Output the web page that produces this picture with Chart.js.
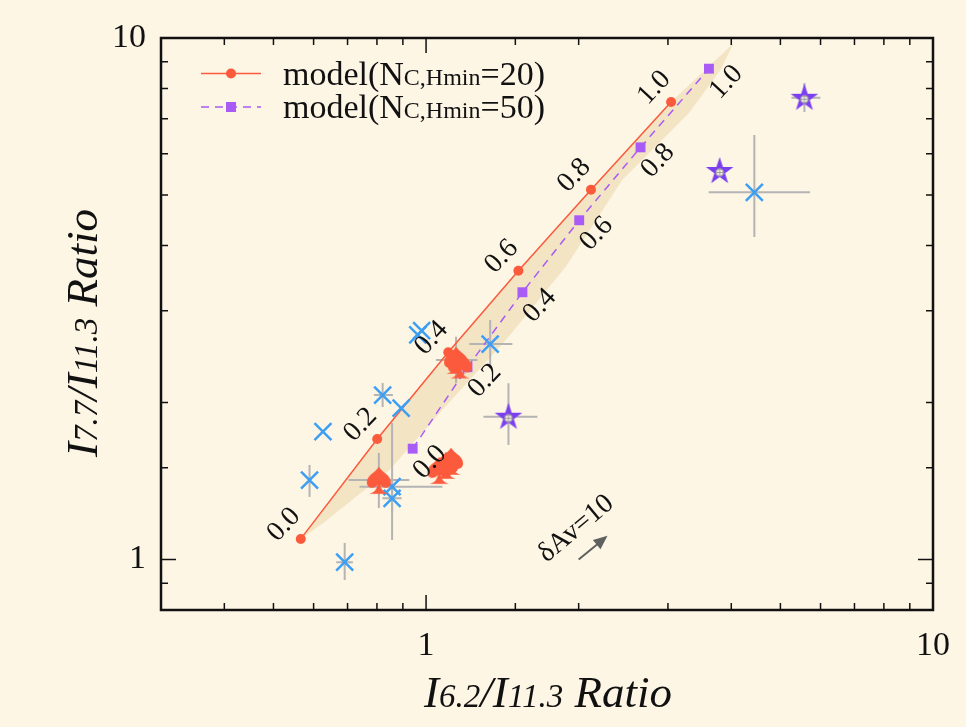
<!DOCTYPE html>
<html>
<head>
<meta charset="utf-8">
<script src="https://cdn.jsdelivr.net/npm/chart.js@4.4.1/dist/chart.umd.min.js"></script>
<style>
  html, body { margin: 0; padding: 0; background: #fdf6e5; }
  #wrap { width: 966px; height: 727px; }
</style>
</head>
<body>
<div id="wrap"><canvas id="ratioChart" width="966" height="727"></canvas></div>
<script>
// Model tracks, labelled by fraction along each curve
const fractionLabels = ["0.0", "0.2", "0.4", "0.6", "0.8", "1.0"]
const model20X = [0.566, 0.801, 1.106, 1.521, 2.115, 3.043]
const model20Y = [1.095, 1.702, 2.496, 3.579, 5.118, 7.54]
const model50X = [0.941, 1.207, 1.549, 2.005, 2.649, 3.614]
const model50Y = [1.631, 2.337, 3.254, 4.472, 6.17, 8.733]

// Shaded envelope: up along the N=20 track, back down the lower edge
const bandX = [0.566, 0.801, 1.106, 1.521, 2.115, 3.043, 4.044, 3.806, 3.297, 2.437, 1.886, 1.437, 1.062, 0.847, 0.626]
const bandY = [1.095, 1.702, 2.496, 3.579, 5.118, 7.54, 9.77, 8.68, 7.17, 5.34, 3.64, 2.636, 1.907, 1.484, 1.173]

// Observed sources (blue crosses)
const crossX = [0.963, 0.980, 0.821, 0.893, 0.626, 0.589, 0.857, 0.857, 0.691, 1.338, 4.442]
const crossY = [2.695, 2.746, 2.067, 1.950, 1.759, 1.420, 1.379, 1.310, 0.988, 2.589, 5.060]
const crossXLo = [null, null, 0.789, null, null, null, 0.739, 0.82, 0.665, 1.217, 3.610]
const crossXHi = [null, null, 0.860, null, null, null, 1.077, 0.895, 0.717, 1.480, 5.722]
const crossYLo = [null, null, 1.961, null, null, 1.318, 1.090, 1.233, 0.913, 2.326, 4.153]
const crossYHi = [null, null, 2.180, null, null, 1.518, 1.827, 1.390, 1.076, 2.880, 6.516]

// Red spades
const spadeX = [0.807, 1.146, 1.166, 1.062, 1.095, 1.120]
const spadeY = [1.420, 2.413, 2.365, 1.484, 1.518, 1.545]
const spadeXLo = [0.703, 1.046, null, null, null, null]
const spadeXHi = [0.927, 1.263, null, null, null, null]
const spadeYLo = [1.255, 2.177, null, null, null, null]
const spadeYHi = [1.600, 2.675, null, null, null, null]

// Purple stars
const starX = [1.454, 5.576, 3.794]
const starY = [1.878, 7.68, 5.559]
const starXLo = [1.298, 5.257, 3.675]
const starXHi = [1.658, 5.995, 3.916]
const starYLo = [1.658, 7.21, 5.413]
const starYHi = [2.177, 8.2, 5.707]

// Extinction vector
const arrowFrom = [2.0, 1.0]
const arrowTo = [2.28, 1.11]

// Axis labels
const xTickLabels = [1, 10]
const yTickLabels = [1, 10]

const bgColor = "#fdf6e5"
const bandColor = "#f3e4c4"
const redColor = "#fb5a3c"
const purpleColor = "#a95bf5"
const starColor = "#7b3ff0"
const blueColor = "#3d9ff3"
const errColor = "#b4b4b4"
const serif = "'Liberation Serif', 'DejaVu Serif', serif"

function pts(xs, ys) {
  return xs.map((x, i) => ({ x: x, y: ys[i] }))
}

function isLabelled(v, list) {
  return list.some((t) => Math.abs(v - t) < 1e-9)
}

function makeSpade(color) {
  const c = document.createElement("canvas")
  c.width = 28
  c.height = 30
  const g = c.getContext("2d")
  g.translate(14, 15)
  g.scale(1.2, 1.2)
  g.fillStyle = color
  g.beginPath()
  g.moveTo(0, -11)
  g.bezierCurveTo(3, -6, 10, -4, 10, 2)
  g.bezierCurveTo(10, 7, 4, 8, 1.2, 4)
  g.quadraticCurveTo(2, 10, 8, 11.5)
  g.lineTo(-8, 11.5)
  g.quadraticCurveTo(-2, 10, -1.2, 4)
  g.bezierCurveTo(-4, 8, -10, 7, -10, 2)
  g.bezierCurveTo(-10, -4, -3, -6, 0, -11)
  g.closePath()
  g.fill()
  return c
}

function makeStar(color) {
  const c = document.createElement("canvas")
  c.width = 32
  c.height = 32
  const g = c.getContext("2d")
  g.translate(16, 16.5)
  g.fillStyle = color
  g.beginPath()
  for (let i = 0; i < 10; i++) {
    const r = i % 2 === 0 ? 14.5 : 5.6
    const a = -Math.PI / 2 + (i * Math.PI) / 5
    g.lineTo(r * Math.cos(a), r * Math.sin(a))
  }
  g.closePath()
  g.fill()
  // small hollow centre with a hairline cross
  g.fillStyle = bgColor
  g.strokeStyle = "#a0a0a0"
  g.lineWidth = 1.2
  g.beginPath()
  g.arc(0, 1, 3.6, 0, Math.PI * 2)
  g.fill()
  g.stroke()
  g.beginPath()
  g.moveTo(-3.6, 1)
  g.lineTo(3.6, 1)
  g.moveTo(0, -2.6)
  g.lineTo(0, 4.6)
  g.stroke()
  return c
}

// text made of runs with different sizes, sharing one baseline
function drawRuns(c, runs, x, y, align, italic) {
  const style = italic ? "italic " : ""
  let total = 0
  runs.forEach((r) => {
    c.font = `${style}${r.size}px ${serif}`
    r.w = c.measureText(r.t).width
    total += r.w
  })
  let cx = align === "center" ? x - total / 2 : x
  c.textAlign = "left"
  c.textBaseline = "alphabetic"
  runs.forEach((r) => {
    c.font = `${style}${r.size}px ${serif}`
    c.fillText(r.t, cx, y)
    cx += r.w
  })
}

function drawErrors(c, x, y, xs, ys, xlo, xhi, ylo, yhi) {
  xs.forEach((v, i) => {
    const px = x.getPixelForValue(v)
    const py = y.getPixelForValue(ys[i])
    c.beginPath()
    if (xlo[i] !== null) {
      c.moveTo(x.getPixelForValue(xlo[i]), py)
      c.lineTo(x.getPixelForValue(xhi[i]), py)
    }
    if (ylo[i] !== null) {
      c.moveTo(px, y.getPixelForValue(ylo[i]))
      c.lineTo(px, y.getPixelForValue(yhi[i]))
    }
    c.stroke()
  })
}

function drawCurveLabels(c, x, y, xs, ys, side) {
  c.save()
  c.font = `28px ${serif}`
  c.fillStyle = "#111"
  c.textAlign = "center"
  c.textBaseline = "middle"
  const n = xs.length
  const p0 = [x.getPixelForValue(xs[0]), y.getPixelForValue(ys[0])]
  const p1 = [x.getPixelForValue(xs[n - 1]), y.getPixelForValue(ys[n - 1])]
  const ang = Math.atan2(p1[1] - p0[1], p1[0] - p0[0])
  // normal pointing up-left (side = -1) or down-right (side = 1)
  const nx = -Math.sin(ang) * side
  const ny = Math.cos(ang) * side
  xs.forEach((v, i) => {
    const px = x.getPixelForValue(v) + nx * 22
    const py = y.getPixelForValue(ys[i]) + ny * 22
    c.save()
    c.translate(px, py)
    c.rotate((-47 * Math.PI) / 180)
    c.fillText(fractionLabels[i], 0, 0)
    c.restore()
  })
  c.restore()
}

const chartDecor = {
  id: "chartDecor",
  beforeDraw(chart) {
    const c = chart.ctx
    c.save()
    c.fillStyle = bgColor
    c.fillRect(0, 0, chart.width, chart.height)
    c.restore()
  },
  beforeDatasetsDraw(chart) {
    const c = chart.ctx
    const a = chart.chartArea
    const x = chart.scales.x
    const y = chart.scales.y
    c.save()
    c.beginPath()
    c.rect(a.left, a.top, a.right - a.left, a.bottom - a.top)
    c.clip()
    c.fillStyle = bandColor
    c.beginPath()
    bandX.forEach((v, i) => c.lineTo(x.getPixelForValue(v), y.getPixelForValue(bandY[i])))
    c.closePath()
    c.fill()
    c.strokeStyle = errColor
    c.lineWidth = 2
    drawErrors(c, x, y, crossX, crossY, crossXLo, crossXHi, crossYLo, crossYHi)
    drawErrors(c, x, y, spadeX, spadeY, spadeXLo, spadeXHi, spadeYLo, spadeYHi)
    drawErrors(c, x, y, starX, starY, starXLo, starXHi, starYLo, starYHi)
    c.restore()
  },
  afterDatasetsDraw(chart) {
    const c = chart.ctx
    const a = chart.chartArea
    const x = chart.scales.x
    const y = chart.scales.y
    c.save()
    c.strokeStyle = "#111"
    c.lineWidth = 1.5
    c.beginPath()
    x.ticks.forEach((t) => {
      const px = x.getPixelForValue(t.value)
      const len = isLabelled(t.value, xTickLabels) ? 15 : 7
      c.moveTo(px, a.bottom)
      c.lineTo(px, a.bottom - len)
      c.moveTo(px, a.top)
      c.lineTo(px, a.top + len)
    })
    y.ticks.forEach((t) => {
      const py = y.getPixelForValue(t.value)
      const len = isLabelled(t.value, yTickLabels) ? 15 : 7
      c.moveTo(a.left, py)
      c.lineTo(a.left + len, py)
      c.moveTo(a.right, py)
      c.lineTo(a.right - len, py)
    })
    c.stroke()
    c.lineWidth = 2.5
    c.strokeRect(a.left, a.top, a.right - a.left, a.bottom - a.top)
    c.restore()
  },
  afterDraw(chart) {
    const c = chart.ctx
    const x = chart.scales.x
    const y = chart.scales.y
    drawCurveLabels(c, x, y, model20X, model20Y, -1)
    drawCurveLabels(c, x, y, model50X, model50Y, 1)

    // extinction arrow
    const ax0 = x.getPixelForValue(arrowFrom[0])
    const ay0 = y.getPixelForValue(arrowFrom[1])
    const ax1 = x.getPixelForValue(arrowTo[0])
    const ay1 = y.getPixelForValue(arrowTo[1])
    const ang = Math.atan2(ay1 - ay0, ax1 - ax0)
    c.save()
    c.strokeStyle = "#606060"
    c.fillStyle = "#606060"
    c.lineWidth = 2
    c.beginPath()
    c.moveTo(ax0, ay0)
    c.lineTo(ax1 - 8 * Math.cos(ang), ay1 - 8 * Math.sin(ang))
    c.stroke()
    c.translate(ax1, ay1)
    c.rotate(ang)
    c.beginPath()
    c.moveTo(0, 0)
    c.lineTo(-14, -6)
    c.lineTo(-14, 6)
    c.closePath()
    c.fill()
    c.restore()
    c.save()
    c.fillStyle = "#111"
    c.translate((ax0 + ax1) / 2 - 17, (ay0 + ay1) / 2 - 19)
    c.rotate(-40 * Math.PI / 180)
    c.font = `28px ${serif}`
    c.textAlign = "center"
    c.textBaseline = "middle"
    c.fillText("\u03b4Av=10", 0, 0)
    c.restore()

    // legend
    c.save()
    c.strokeStyle = redColor
    c.fillStyle = redColor
    c.lineWidth = 1.5
    c.beginPath()
    c.moveTo(201, 73.5)
    c.lineTo(261, 73.5)
    c.stroke()
    c.beginPath()
    c.arc(231, 73.5, 5, 0, Math.PI * 2)
    c.fill()
    c.strokeStyle = purpleColor
    c.fillStyle = purpleColor
    c.setLineDash([8, 6])
    c.beginPath()
    c.moveTo(201, 107)
    c.lineTo(261, 107)
    c.stroke()
    c.setLineDash([])
    c.fillRect(226, 102, 10, 10)
    c.fillStyle = "#111"
    drawRuns(c, [{ t: "model(N", size: 34 }, { t: "C,Hmin", size: 24 }, { t: "=20)", size: 34 }], 283, 85, "left", false)
    drawRuns(c, [{ t: "model(N", size: 34 }, { t: "C,Hmin", size: 24 }, { t: "=50)", size: 34 }], 283, 118, "left", false)
    c.restore()

    // axis titles
    c.save()
    c.fillStyle = "#111"
    drawRuns(c, [{ t: "I", size: 45 }, { t: "6.2", size: 33 }, { t: "/I", size: 45 }, { t: "11.3", size: 33 }, { t: " Ratio", size: 45 }], 548, 707, "center", true)
    c.translate(97, 333)
    c.rotate(-Math.PI / 2)
    drawRuns(c, [{ t: "I", size: 45 }, { t: "7.7", size: 33 }, { t: "/I", size: 45 }, { t: "11.3", size: 33 }, { t: " Ratio", size: 45 }], 0, 0, "center", true)
    c.restore()
  },
}

new Chart(document.getElementById("ratioChart"), {
  type: "scatter",
  data: {
    datasets: [
      {
        label: "stars",
        data: pts(starX, starY),
        pointStyle: makeStar(starColor),
      },
      {
        label: "spades",
        data: pts(spadeX, spadeY),
        pointStyle: makeSpade(redColor),
      },
      {
        label: "sources",
        data: pts(crossX, crossY),
        pointStyle: "crossRot",
        pointRadius: 12,
        borderColor: blueColor,
        borderWidth: 2.5,
      },
      {
        label: "model(NC,Hmin=20)",
        data: pts(model20X, model20Y),
        showLine: true,
        borderColor: redColor,
        backgroundColor: redColor,
        borderWidth: 1.5,
        pointRadius: 5,
        pointBorderWidth: 0,
      },
      {
        label: "model(NC,Hmin=50)",
        data: pts(model50X, model50Y),
        showLine: true,
        borderColor: purpleColor,
        backgroundColor: purpleColor,
        borderWidth: 1.5,
        borderDash: [8, 6],
        pointStyle: "rect",
        pointRadius: 7,
        pointBorderWidth: 0,
      },
    ],
  },
  options: {
    responsive: false,
    animation: false,
    events: [],
    layout: { padding: { top: 38, right: 31, left: 0, bottom: 0 } },
    scales: {
      x: {
        type: "logarithmic",
        min: 0.3,
        max: 10,
        afterFit: (s) => {
          s.height = 117
        },
        grid: { display: false, drawTicks: false },
        border: { display: false },
        ticks: {
          autoSkip: false,
          maxRotation: 0,
          padding: 16,
          color: "#111",
          font: { family: serif, size: 34 },
          callback: (v) => (isLabelled(v, xTickLabels) ? String(v) : ""),
        },
      },
      y: {
        type: "logarithmic",
        min: 0.8,
        max: 10,
        afterFit: (s) => {
          s.width = 161
        },
        grid: { display: false, drawTicks: false },
        border: { display: false },
        ticks: {
          autoSkip: false,
          padding: 15,
          color: "#111",
          font: { family: serif, size: 34 },
          callback: (v) => (isLabelled(v, yTickLabels) ? String(v) : ""),
        },
      },
    },
    plugins: {
      legend: { display: false },
      tooltip: { enabled: false },
    },
  },
  plugins: [chartDecor],
})
</script>
</body>
</html>
